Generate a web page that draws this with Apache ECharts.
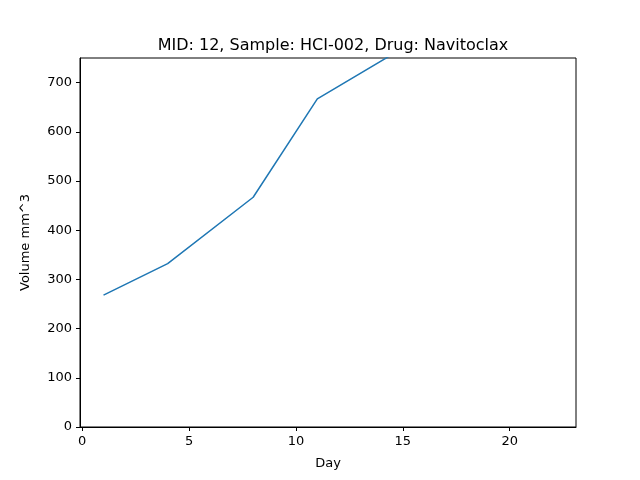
<!DOCTYPE html>
<html>
<head>
<meta charset="utf-8">
<script src="https://cdn.jsdelivr.net/npm/echarts@6/dist/echarts.min.js"></script>
<style>html,body{margin:0;padding:0;background:#fff}#chart{width:640px;height:480px}</style>
</head>
<body>
<div id="chart"></div>
<script>
// measured volumes per day (the tail beyond 750 is clipped in the reference)
var days = [1, 4, 8, 11, 15, 18, 22];
var volumes = [268, 332, 467, 667, 770, 900, 1100];
var xTicks = [0, 5, 10, 15, 20];
var yTicks = [0, 100, 200, 300, 400, 500, 600, 700];

var chart = echarts.init(document.getElementById('chart'));
var font = {color: '#000', fontSize: 13, fontFamily: 'DejaVu Sans'};
chart.setOption({
  animation: false,
  title: {
    text: 'MID: 12, Sample: HCI-002, Drug: Navitoclax',
    left: 328, top: 33, textAlign: 'center',
    textStyle: {fontSize: 16, fontWeight: 'normal', color: '#000', fontFamily: 'DejaVu Sans'}
  },
  grid: {left: 80, right: 64, top: 58, bottom: 53, show: true, borderColor: '#000', borderWidth: 1},
  xAxis: {
    type: 'value', min: -0.1, max: 23.1,
    name: 'Day', nameLocation: 'middle', nameGap: 30, nameTextStyle: font,
    axisLine: {onZero: false, lineStyle: {color: '#000'}},
    axisTick: {lineStyle: {color: '#000'}, length: 4, customValues: xTicks},
    axisLabel: Object.assign({customValues: xTicks}, font),
    splitLine: {show: false}
  },
  yAxis: {
    type: 'value', min: 0, max: 750,
    name: 'Volume mm^3', nameLocation: 'middle', nameGap: 48, nameTextStyle: font,
    axisLine: {onZero: false, lineStyle: {color: '#000'}},
    axisTick: {lineStyle: {color: '#000'}, length: 4, customValues: yTicks},
    axisLabel: Object.assign({customValues: yTicks}, font),
    splitLine: {show: false}
  },
  series: [{
    type: 'line',
    data: days.map(function (d, i) { return [d, volumes[i]]; }),
    showSymbol: false,
    clip: true,
    lineStyle: {color: '#1f77b4', width: 1.5}
  }]
});
</script>
</body>
</html>
